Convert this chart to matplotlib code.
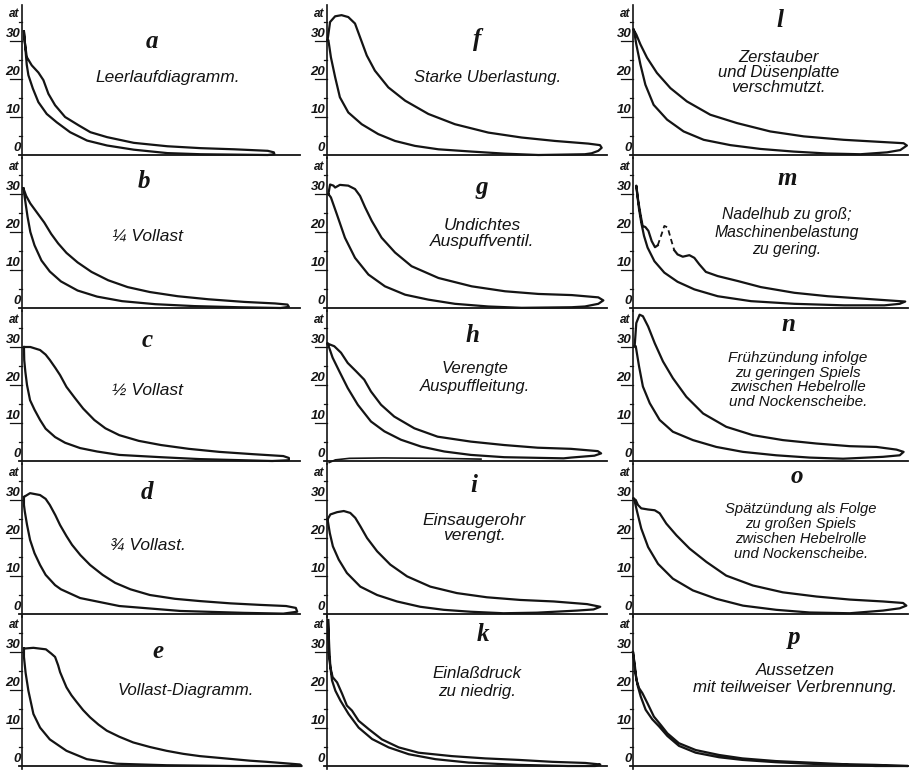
#!/usr/bin/env python3
"""Indicator diagrams a-p (Dieselmotor, Störungen) redrawn."""
import matplotlib
matplotlib.use('Agg')
import matplotlib.pyplot as plt

plt.rcParams['font.family'] = ['Liberation Sans', 'DejaVu Sans']

INK = '#141414'

# ------------------------------------------------------------
# data: stroke position (% of base line) and pressure (at)
# each loop = expansion line (peak -> right end) + compression line (back to left)
# ------------------------------------------------------------
loop_a = [(0.7, 32.5), (1.0, 29.8), (1.7, 25.8), (3.5, 23.6), (5.9, 21.7), (7.7, 19.7),
          (9.5, 16.1), (11.9, 13.1), (15.5, 10.0), (20.4, 7.8), (24.6, 6.0), (30.6, 4.7),
          (40.2, 3.2), (52.3, 2.3), (64.3, 1.8), (76.4, 1.5), (88.4, 1.1), (90.6, 0.7),
          (90.8, 0.2),
          (88.4, 0.0), (64.3, 0.2), (52.3, 0.5), (40.2, 1.4), (30.6, 2.5), (23.4, 3.8),
          (17.3, 6.0), (12.5, 8.6), (8.9, 10.8), (5.9, 13.9), (3.9, 17.5), (2.3, 21.0),
          (1.7, 23.8)]

loop_b = [(0.5, 31.5), (1.5, 29.5), (3, 27.5), (5.5, 25), (8, 22.5), (10.5, 19.5),
          (13, 17), (16, 14.5), (20, 12), (25, 9.5), (31, 7.3), (38, 5.5), (46, 4.2),
          (56, 3.1), (67, 2.3), (80, 1.6), (91, 1.2), (95.5, 0.9), (96, 0.3),
          (93, 0.0), (78, 0.2), (62, 0.5), (48, 1.0), (36, 1.8), (27, 3.0), (20, 4.6),
          (14, 7.0), (10, 9.6), (7, 12.5), (4.5, 16.5), (3, 20), (2, 24), (1.2, 28)]

loop_c = [(0.7, 30), (3, 30), (6.5, 29.2), (8.5, 28), (10, 26.6), (12, 24.5), (13.7, 22.6),
          (16, 19.5), (19, 16.6), (22, 13.8), (26, 10.8), (30, 8.6), (35, 6.8), (42, 5.3),
          (50, 4.2), (60, 3.2), (71, 2.4), (83, 1.8), (94, 1.3), (96, 0.8), (96, 0.2),
          (90, 0.0), (64, 0.5), (50, 1.0), (35, 1.6), (27, 2.5), (20.9, 3.4), (15.5, 4.8),
          (11.9, 6.3), (8.5, 8.5), (6.5, 10.8), (4.5, 13.5), (2.9, 16), (1.8, 20),
          (1.2, 23.5), (0.8, 26.6)]

loop_d = [(0.7, 30.8), (2.9, 31.8), (6.5, 31.3), (8.5, 30.3), (10, 28.7), (12, 26),
          (13.7, 23.4), (16, 20.5), (18, 18.2), (21, 15.5), (24.5, 12.9), (29, 10.3),
          (33.5, 8.2), (39, 6.5), (46, 5.0), (55, 4.0), (64, 3.4), (75, 2.8), (85.6, 2.4),
          (95, 2.1), (98.5, 1.6), (99, 0.6),
          (94, 0.1), (80, 0.3), (57, 0.8), (35, 2.1), (20.9, 4.2), (14, 6.5), (11.9, 7.6),
          (8.5, 10.3), (6.5, 12.9), (4.5, 16), (2.9, 19.5), (1.8, 23.5), (1.0, 27),
          (0.7, 28.7)]

loop_e = [(0.7, 30.9), (4.1, 31.1), (8.6, 30.7), (10.5, 29.6), (11.9, 28.7), (13.0, 26.5),
          (13.7, 24.7), (14.9, 22.6), (16, 20.7), (17.8, 18.6), (19.7, 16.8), (22, 14.7),
          (24.5, 12.8), (27.5, 10.9), (30.5, 9.3), (35, 7.7), (40, 6.2), (46, 5.0),
          (52, 4.0), (58, 3.2), (64, 2.6), (70, 2.2), (76, 1.8), (82, 1.4), (88, 1.1),
          (95, 0.7), (100, 0.4), (100.6, 0.0),
          (98, 0.0), (76, 0.0), (52, 0.2), (34, 0.6), (23.3, 1.8), (16, 4.0), (10, 7.0),
          (6.5, 10.1), (4.1, 13.7), (2.3, 19.8), (1.3, 24.5), (0.7, 28.7)]

loop_f = [(0.2, 30.2), (1.1, 35), (2.9, 36.5), (5.2, 36.8), (7.6, 36.3), (10, 34.6),
          (11.8, 31), (14.2, 26.2), (17.1, 22.2), (21.9, 17.8), (27.9, 14.3), (36.2, 10.8),
          (45.7, 8.1), (57.6, 5.9), (69.5, 4.6), (81.4, 3.7), (93.3, 3.0), (97.5, 2.6),
          (98.1, 1.9), (96.9, 1.1), (94.5, 0.45),
          (92.1, 0.2), (75.5, 0.0), (63.6, 0.35), (51.7, 0.9), (39.8, 1.5), (31.4, 2.4),
          (24.3, 3.7), (18.3, 5.5), (12.4, 8.1), (7.6, 11.2), (4.6, 15.2), (2.9, 20.5),
          (1.4, 25.7), (0.5, 30.2)]

loop_g = [(0.5, 30), (1.1, 32.5), (2.3, 32.2), (2.9, 31.7), (4.6, 32.4), (7.6, 32.2),
          (10, 31.3), (11.8, 29.5), (13.6, 26.5), (16, 22.9), (19.5, 18.5), (24.3, 14.6),
          (30.2, 11), (39.8, 7.9), (51.7, 5.7), (63.6, 4.4), (75.5, 3.7), (87.4, 3.4),
          (96.9, 2.8), (98.7, 2.0), (96.9, 1.1), (92.1, 0.4),
          (87.4, 0.2), (69.5, 0.05), (57.6, 0.4), (45.7, 1.1), (36.2, 2.2), (27.9, 3.5),
          (20.7, 5.7), (14.8, 8.8), (10, 13.2), (6.4, 18.5), (3.5, 24.7), (1.4, 29.1)]

loop_h = [(0.2, 30.9), (2.6, 30.2), (5, 28.5), (7.4, 25.8), (10.4, 23.6), (13.3, 21.4),
          (15.7, 18.3), (19.3, 14.8), (24, 11.7), (31.2, 8.6), (39.5, 6.4), (51.4, 5.1),
          (63.3, 4.2), (75.2, 3.5), (87.1, 3.2), (96.7, 2.6), (97.9, 2.0), (95.5, 1.4),
          (87.1, 0.9),
          (84.5, 0.7), (63.3, 1.0), (51.4, 1.6), (41.9, 2.5), (33.6, 3.8), (26.4, 5.6),
          (20.5, 7.8), (15.7, 10.4), (11, 14.8), (7.4, 19.2), (4.4, 23.6), (2, 27.2),
          (0.6, 30.2)]
exhaust_h = [(0.8, -0.4), (3, 0.3), (8, 0.7), (20, 0.8), (40, 0.7), (55, 0.5)]

loop_i = [(0.2, 24.9), (1.2, 26.2), (3.6, 26.8), (6, 27.1), (8.3, 26.6), (10.1, 25.3),
          (11.9, 23.1), (14.3, 20), (17.9, 16.5), (22.6, 13), (28.6, 9.9), (36.9, 7.2),
          (46.4, 5.5), (57.1, 4.4), (69, 3.7), (81, 3.3), (92.9, 2.6), (97.6, 1.9),
          (95.2, 1.2), (89.3, 0.9),
          (75, 0.35), (63, 0.2), (51.2, 0.6), (41.7, 1.1), (33.3, 1.9), (25, 3.3),
          (17.9, 5.0), (11.9, 7.2), (7.1, 10.8), (4.2, 14.3), (2.1, 17.8), (1, 21.3)]

loop_k = [(0.4, 38.4), (0.8, 31.3), (1.2, 26), (2, 23.4), (3.6, 22), (5.4, 19), (7.1, 15.9),
          (8.9, 14.6), (11.3, 11.9), (14.9, 9.7), (19.6, 7.0), (25.6, 4.9), (32.7, 3.5),
          (44.6, 2.6), (56.5, 2.0), (68.5, 1.6), (80.4, 1.1), (92.3, 0.8), (97.6, 0.4),
          (95.8, 0.0),
          (86, 0.0), (68.5, 0.3), (50.6, 0.9), (38.7, 1.8), (29.2, 3.1), (22, 4.9),
          (16.1, 7.1), (11.3, 10.1), (7.7, 13.7), (4.8, 17.2), (3, 19.8), (1.8, 22.5),
          (1.2, 26), (0.6, 29.5)]

loop_l = [(0.2, 33), (1.2, 31.7), (2.7, 29.1), (5.1, 25.6), (8.7, 21.6), (13.6, 17.6),
          (19.6, 14.1), (28.1, 10.6), (37.8, 8.4), (49.9, 6.2), (62.1, 4.9), (76.6, 4.0),
          (88.7, 3.5), (98.4, 3.1), (99.6, 2.5), (97.2, 1.3), (92.4, 0.7),
          (82.7, 0.2), (70.5, 0.4), (58.4, 0.9), (46.3, 1.6), (35.4, 2.6), (25.7, 4.0),
          (18.4, 6.2), (12.4, 9.3), (7.5, 13.2), (4.5, 18.5), (2.7, 23.8), (1.2, 29.1),
          (0.5, 32.2)]

# m: solid part starts where the dashed hump ends, runs round the loop
# and comes back down the expansion line to where the dash begins
line_m = [(15, 15.2), (16.2, 14.1), (18.1, 13.5), (20.5, 13.9), (22.3, 13.2), (24.1, 11.5),
          (26.5, 9.5), (30.8, 8.4), (38.1, 7.1), (46.5, 5.5), (58.7, 4.0), (70.8, 3.1),
          (82.9, 2.5), (95, 1.9), (99, 1.7), (97, 1.1), (91.4, 0.7),
          (76.8, 0.7), (58.7, 1.1), (42.9, 1.8), (30.8, 3.1), (22.3, 4.9), (16.2, 6.9),
          (11.4, 9.3), (7.8, 12.3), (5.3, 15.9), (4, 19), (3, 22.5), (2.2, 26), (1.6, 29.5),
          (1.2, 32.2),
          (1.9, 28.2), (2.7, 24.7), (3.5, 21.6), (4.5, 21.3), (5.6, 20.3), (6.8, 17.6),
          (8, 16), (9, 16.5)]
dash_m = [(9, 16.5), (10.2, 19), (11.4, 21.6), (12.6, 21.2), (13.8, 18.1), (15, 15.2)]

loop_n = [(0.6, 30.2), (1.2, 36.3), (2.4, 38.5), (3.6, 38.1), (5.5, 35.4), (7.9, 31),
          (10.9, 26.2), (14.5, 21.8), (19.4, 16.9), (25.5, 12.5), (33.9, 9.0), (43.6, 6.8),
          (54.5, 5.5), (66.7, 4.6), (78.8, 3.9), (88.5, 3.7), (95.8, 3.0), (98.4, 2.4),
          (97, 1.5), (90.9, 1.1),
          (76.4, 0.6), (64.2, 0.9), (52.1, 1.5), (40, 2.4), (30.3, 3.7), (21.8, 5.5),
          (14.5, 7.7), (9.7, 10.8), (6.1, 15.2), (3.6, 19.6), (2.2, 24.9), (1, 30.2)]

loop_o = [(0.2, 30.4), (1, 30), (1.8, 28.7), (3, 27.8), (5.5, 27.5), (7.9, 27.3), (9.7, 26.5),
          (12.1, 23.8), (15.8, 20.7), (20.6, 17.2), (26.7, 13.7), (33.9, 10.1), (43.6, 7.5),
          (54.5, 5.7), (66.7, 4.6), (78.8, 3.8), (90.9, 3.3), (98.2, 2.9), (99.4, 2.2),
          (97, 1.5), (90.9, 0.9),
          (78.8, 0.2), (64.2, 0.4), (52.1, 1.1), (40, 2.2), (30.3, 4.0), (21.8, 6.2),
          (14.5, 9.3), (9.1, 13.2), (5.5, 17.6), (3, 22.5), (1.5, 26.9), (0.5, 30)]

loop_p = [(0, 30), (0.7, 26.3), (1.2, 22.8), (2.2, 20.5), (3.4, 19.2), (5.2, 16.6), (7.6, 13),
          (10.1, 10.8), (12.5, 8.6), (16.7, 6.0), (22.8, 4.2), (31.3, 2.9), (39.8, 2.0),
          (51.9, 1.3), (64, 0.9), (76.1, 0.5), (88.2, 0.3), (100, 0.0),
          (88.2, 0.0), (76.1, 0.3), (64, 0.6), (51.9, 1.0), (39.8, 1.6), (31.3, 2.3),
          (22.8, 3.5), (16.7, 5.3), (12.5, 7.9), (9.5, 10.4), (7, 12.3), (4.6, 14.8),
          (2.8, 18.3), (1.6, 21.4), (0.7, 25.4)]

letters = ['a', 'b', 'c', 'd', 'e', 'f', 'g', 'h', 'i', 'k', 'l', 'm', 'n', 'o', 'p']
captions = ['Leerlaufdiagramm.',
            '¼ Vollast',
            '½ Vollast',
            '¾ Vollast.',
            'Vollast-Diagramm.',
            'Starke Uberlastung.',
            'Undichtes\nAuspuffventil.',
            'Verengte\nAuspuffleitung.',
            'Einsaugerohr\nverengt.',
            'Einlaßdruck\nzu niedrig.',
            'Zerstauber\nund Düsenplatte\nverschmutzt.',
            'Nadelhub zu groß;\nMaschinenbelastung\nzu gering.',
            'Frühzündung infolge\nzu geringen Spiels\nzwischen Hebelrolle\nund Nockenscheibe.',
            'Spätzündung als Folge\nzu großen Spiels\nzwischen Hebelrolle\nund Nockenscheibe.',
            'Aussetzen\nmit teilweiser Verbrennung.']
loops = [loop_a, loop_b, loop_c, loop_d, loop_e, loop_f, loop_g, loop_h,
         loop_i, loop_k, loop_l, None, loop_n, loop_o, loop_p]

letter_pos = [(46.8, 30), (44, 33.2), (45, 31.8), (45, 32), (49, 30),
              (53.6, 30.3), (55.4, 31.8), (51.8, 33), (52.5, 33.7), (55.7, 34.7),
              (53.5, 35.5), (56, 34), (56.4, 36), (59.6, 36.3), (58.5, 33.7)]
caption_pos = [(52.5, 20.3), (45, 19), (45.3, 18.7), (45.3, 18.2), (59, 20),
               (57.5, 20.3), (55.4, 19.7), (52.9, 22), (52.5, 22.6), (53.6, 22),
               (53, 21.6), (56, 20), (60, 21.3), (61, 21.8), (59, 22.9)]
caption_size = [12.5, 12.5, 12.5, 12.5, 12, 12, 12.5, 12, 12.5, 12.2,
                12, 11.3, 11, 10.6, 12.2]
caption_spacing = [1.0, 1.0, 1.0, 1.0, 1.0, 1.0, 1.1, 1.2, 1.0, 1.2,
                   1.0, 1.2, 1.05, 1.1, 1.1]

major_ticks = [0, 10, 20, 30]
minor_ticks = [5, 15, 25, 35]

# ------------------------------------------------------------
# layout (pixels of the 922 x 771 sheet)
# ------------------------------------------------------------
W, H = 922, 771
col_axis = [22, 327, 633]
col_unit = [2.78, 2.80, 2.75]
row_base = [155, 308, 461, 614, 766]
PY = 3.8
XMIN, XMAX = -8, 100
YMIN, YMAX = -1.2, 39.5

fig = plt.figure(figsize=(W / 100, H / 100), dpi=100)
fig.patch.set_facecolor('white')

for i, letter in enumerate(letters):
    c, r = divmod(i, 5)
    left = col_axis[c] + XMIN * col_unit[c]
    width = (XMAX - XMIN) * col_unit[c]
    top = row_base[r] - YMAX * PY
    height = (YMAX - YMIN) * PY
    ax = fig.add_axes([left / W, 1 - (top + height) / H, width / W, height / H])
    ax.set_xlim(XMIN, XMAX)
    ax.set_ylim(YMIN, YMAX)
    ax.axis('off')

    # pressure axis and atmospheric line
    ax.plot([0, 0], [-0.7, YMAX], color=INK, lw=1.2, clip_on=False)
    ax.plot([-1, 100], [0, 0], color=INK, lw=1.3, clip_on=False)
    for v in major_ticks:
        if v > 0:
            ax.plot([-4.4, 0], [v, v], color=INK, lw=0.9)
        ax.text(-0.6, v + 0.3, str(v), ha='right', va='bottom', fontsize=9.5,
                style='italic', fontweight='bold', color=INK)
    for v in minor_ticks:
        ax.plot([-1.2, 0], [v, v], color=INK, lw=0.9)
    ax.text(-0.8, 37.2, 'at', ha='right', va='center', fontsize=8.5,
            style='italic', fontweight='bold', color=INK)

    # diagram
    if letter == 'm':
        xs, ps = zip(*line_m)
        ax.plot(xs, ps, color=INK, lw=1.6, solid_joinstyle='round', clip_on=False)
        xs, ps = zip(*dash_m)
        ax.plot(xs, ps, color=INK, lw=1.3, ls=(0, (3, 2)), clip_on=False)
    else:
        pts = loops[i] + [loops[i][0]]
        xs, ps = zip(*pts)
        ax.plot(xs, ps, color=INK, lw=1.6, solid_joinstyle='round', clip_on=False)
    if letter == 'h':
        xs, ps = zip(*exhaust_h)
        ax.plot(xs, ps, color=INK, lw=1.2)

    lx, ly = letter_pos[i]
    ax.text(lx, ly, letter, ha='center', va='center', fontsize=18,
            family=['Liberation Serif', 'DejaVu Serif'], style='italic',
            fontweight='bold', color=INK)
    cx, cy = caption_pos[i]
    ax.text(cx, cy, captions[i], ha='center', va='center', fontsize=caption_size[i],
            style='italic', linespacing=caption_spacing[i], multialignment='center',
            color=INK)

fig.savefig('out.png', dpi=100)
print("Saved out.png")
